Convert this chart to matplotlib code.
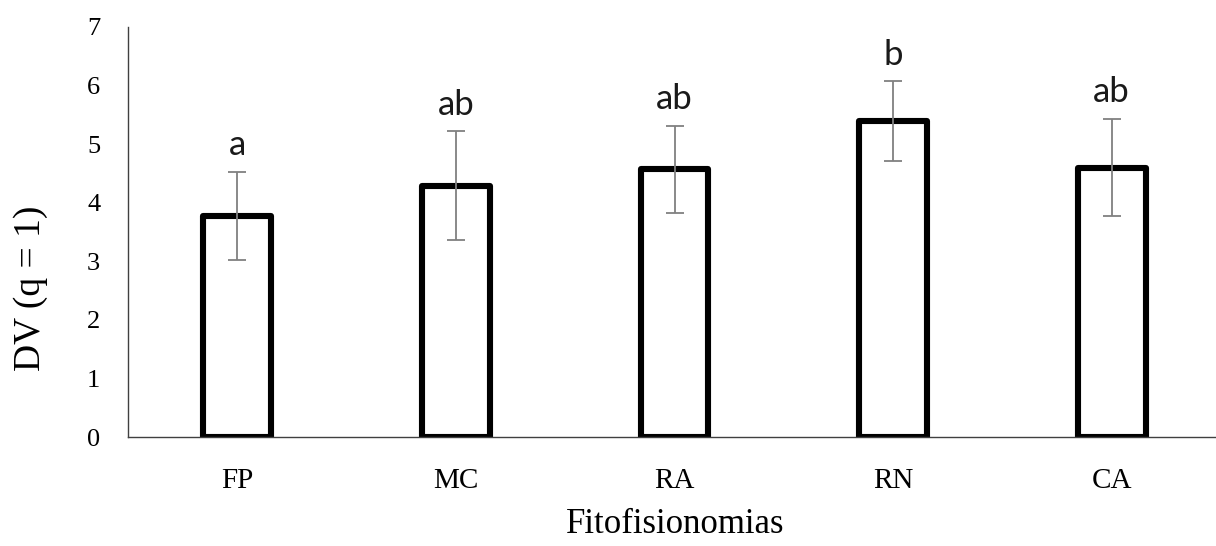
import numpy as np
import matplotlib.pyplot as plt

# values
categories = ["FP", "MC", "RA", "RN", "CA"]
means      = [3.78, 4.29, 4.57, 5.39, 4.60]
errors     = [0.75, 0.93, 0.74, 0.68, 0.83]
letters    = ["a", "ab", "ab", "b", "ab"]

SERIF = "Liberation Serif"

fig = plt.figure(figsize=(12.16, 5.46), dpi=100)
ax = fig.add_axes([0.1053, 0.1996, 0.8947, 0.751])

x = np.arange(len(categories))
ax.bar(x, means, width=0.31, color="white", edgecolor="black",
       linewidth=4.4, joinstyle="round", zorder=2)
ax.errorbar(x, means, yerr=errors, fmt="none", ecolor="#808080",
            elinewidth=1.3, capsize=6.5, capthick=1.3, zorder=3)

for xi, m, e, lab in zip(x, means, errors, letters):
    ax.annotate(lab, (xi, m + e), xytext=(0, 12), textcoords="offset points",
                ha="center", va="baseline", fontsize=25,
                family=["Lato", "DejaVu Sans"], color="#1a1a1a")

ax.set_xlim(-0.5, 4.477)
ax.set_ylim(0, 7)
ax.set_yticks(range(8))
ax.set_xticks(x)
ax.set_xticklabels(categories)

for s in ("top", "right"):
    ax.spines[s].set_visible(False)
for s in ("left", "bottom"):
    ax.spines[s].set_color("#404040")
    ax.spines[s].set_linewidth(1.0)

ax.tick_params(axis="both", length=0)
ax.tick_params(axis="y", pad=20, labelsize=19)
ax.tick_params(axis="x", pad=22, labelsize=21)
for t in ax.get_xticklabels() + ax.get_yticklabels():
    t.set_family(SERIF)

ax.set_xlabel("Fitofisionomias", family=SERIF, fontsize=25)
ax.set_ylabel("DV (q = 1)", family=SERIF, fontsize=27)
ax.xaxis.set_label_coords(0.503, -0.172)
ax.yaxis.set_label_coords(-0.074, 0.363)

fig.savefig("out.png", dpi=100)
